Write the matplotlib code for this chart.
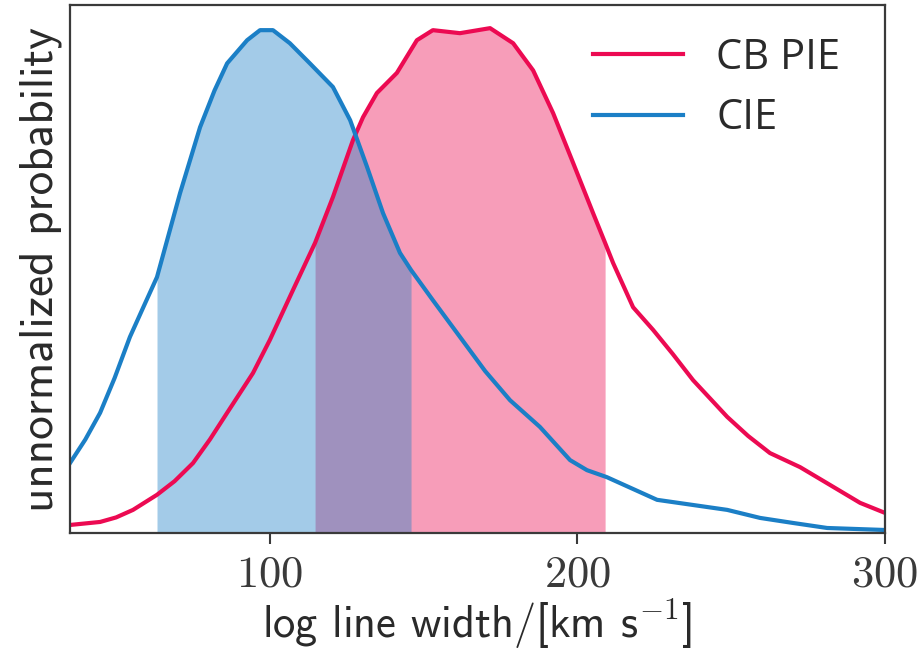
import numpy as np
import matplotlib
matplotlib.use("Agg")
import matplotlib.pyplot as plt
from matplotlib.ticker import FuncFormatter

plt.rcParams["mathtext.fontset"] = "cm"

# Line-width distributions (unnormalized probability)
cie_x = [35.0, 40.0, 44.8, 49.5, 54.5, 59.0, 63.3, 70.8, 77.3, 82.0, 86.1, 92.6,
         96.8, 101.0, 106.5, 113.0, 120.5, 126.1, 131.6, 136.8, 142.3, 145.9,
         153.0, 161.8, 170.0, 178.1, 187.8, 197.6, 203.1, 209.6, 225.9, 248.7,
         259.4, 270.1, 281.2, 300.0]
cie_y = [0.139, 0.186, 0.239, 0.308, 0.390, 0.451, 0.509, 0.676, 0.807, 0.880,
         0.934, 0.980, 1.000, 1.000, 0.974, 0.934, 0.887, 0.821, 0.728, 0.636,
         0.557, 0.523, 0.463, 0.390, 0.322, 0.264, 0.211, 0.145, 0.125, 0.111,
         0.066, 0.046, 0.030, 0.020, 0.010, 0.006]

pie_x = [35.0, 44.8, 50.0, 55.5, 63.3, 69.0, 75.0, 80.5, 86.1, 94.5, 100.0,
         107.5, 114.7, 120.5, 127.0, 130.3, 134.8, 141.3, 147.8, 153.0, 161.8,
         171.6, 179.1, 185.6, 192.1, 198.6, 205.1, 209.0, 211.6, 218.1, 224.6,
         231.0, 237.6, 248.7, 255.5, 262.6, 272.4, 281.2, 291.9, 300.0]
pie_y = [0.016, 0.022, 0.031, 0.046, 0.076, 0.103, 0.139, 0.186, 0.239, 0.318,
         0.384, 0.483, 0.577, 0.668, 0.781, 0.827, 0.875, 0.915, 0.980, 1.000,
         0.994, 1.004, 0.974, 0.920, 0.835, 0.736, 0.636, 0.577, 0.537, 0.449,
         0.404, 0.356, 0.304, 0.231, 0.193, 0.159, 0.131, 0.099, 0.060, 0.040]

# Shaded intervals
cie_band = (63.3, 145.9)
pie_band = (114.7, 209.0)

x_ticks = [100, 200, 300]

c_pie = "#ec0a52"
c_cie = "#1b7fc6"

fig = plt.figure(figsize=(9.23, 6.6), dpi=100)
ax = fig.add_axes([0.0758, 0.1924, 0.8830, 0.8000])

px, py = np.array(pie_x), np.array(pie_y)
cx, cy = np.array(cie_x), np.array(cie_y)

ax.fill_between(px, py, where=(px >= pie_band[0]) & (px <= pie_band[1]),
                color=c_pie, alpha=0.4, linewidth=0)
ax.fill_between(cx, cy, where=(cx >= cie_band[0]) & (cx <= cie_band[1]),
                color=c_cie, alpha=0.4, linewidth=0)
ax.plot(px, py, color=c_pie, lw=3, label="CB PIE", solid_joinstyle="round")
ax.plot(cx, cy, color=c_cie, lw=3, label="CIE", solid_joinstyle="round")

ax.set_xlim(35, 300)
ax.set_ylim(0, 1.05)
ax.set_xticks(x_ticks)
ax.xaxis.set_major_formatter(FuncFormatter(lambda v, p: r"$%d$" % v))
ax.set_yticks([])

for s in ax.spines.values():
    s.set_color("#3a3a3a")
    s.set_linewidth(1.6)
ax.tick_params(axis="x", direction="out", length=8, width=1.5,
               color="#3a3a3a", labelsize=32, labelcolor="#3a3a3a", pad=6)

ax.set_xlabel("log line width/[km s$^{-1}$]", family="cmss10", fontsize=32,
              color="#2a2a2a", labelpad=2)
ax.set_ylabel("unnormalized probability", family="cmss10", fontsize=34,
              color="#2a2a2a", labelpad=6)

leg = ax.legend(loc="center left", bbox_to_anchor=(0.642, 0.843), frameon=False,
                prop={"family": "Open Sans", "size": 30}, handlelength=2.15,
                handletextpad=0.8, labelspacing=0.45, borderpad=0,
                borderaxespad=0)
for t in leg.get_texts():
    t.set_color("#2a2a2a")

fig.savefig("out.png", dpi=100)
